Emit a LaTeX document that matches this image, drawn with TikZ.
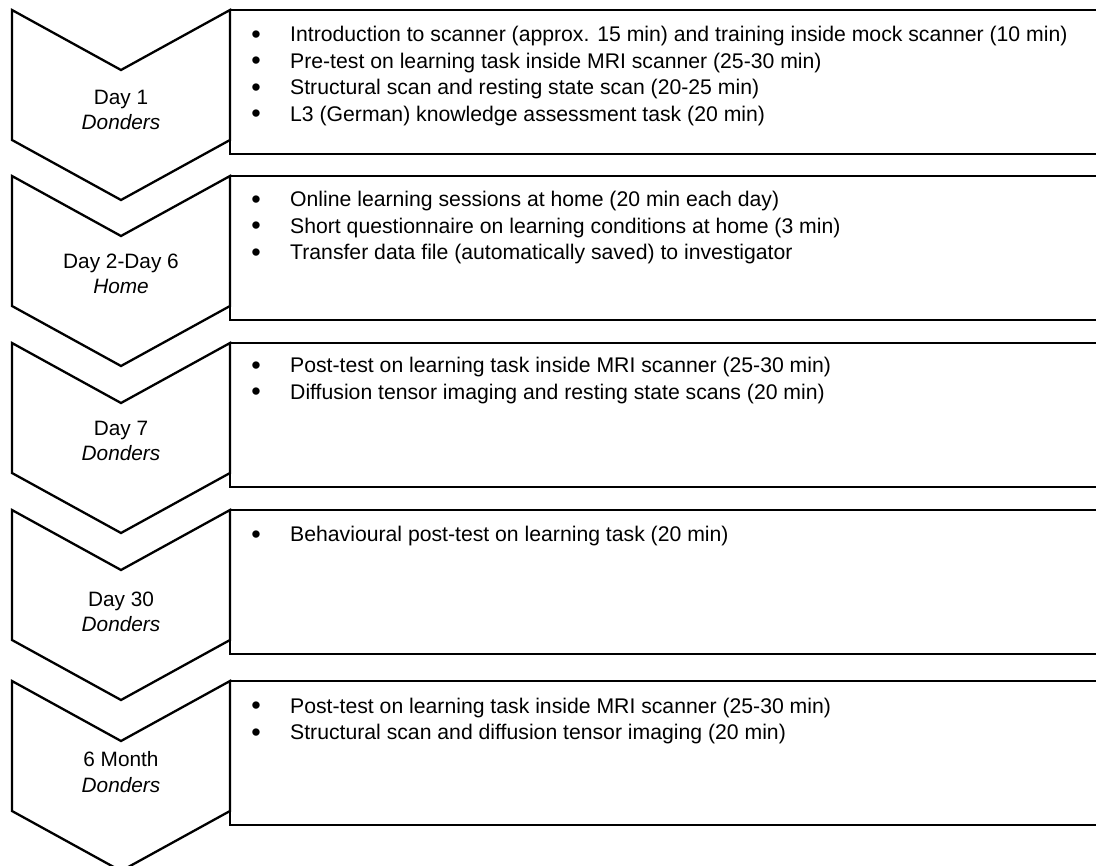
\documentclass[tikz,border=0pt]{standalone}
\usepackage{fontspec}
\setmainfont{Liberation Sans}
\tikzset{
  outl/.style={line width=2.3pt, line join=miter},
  lbl/.style={font=\fontsize{20.8}{25.5}\selectfont, align=center, inner sep=0pt},
  itm/.style={font=\fontsize{21.2}{22}\selectfont, anchor=base west, inner sep=0pt},
  dot/.style={font=\fontsize{27}{22}\selectfont, anchor=base, inner sep=0pt,
              text height=6pt, text depth=0pt},
}
\newcommand{\stage}[1]{%
  \draw[outl] (230,#1) rectangle (1110,#1+144);
  \draw[outl, fill=white] (12,#1) -- (121,#1+60) -- (230,#1) -- (230,#1+130)
      -- (121,#1+190) -- (12,#1+130) -- cycle;
}
\newcommand{\bul}[3]{% name, y baseline, text
  \node[dot] (#1d) at (256,#2+1.5) {•};
  \node[itm] (#1) at (290,#2) {#3};
}
\begin{document}
\begin{tikzpicture}[x=1pt,y=-1pt]
\useasboundingbox (0,0) rectangle (1096,866);
\begin{scope}
\clip (0,0) rectangle (1096,866);
\stage{10}
\stage{176}
\stage{343}
\stage{510}
\stage{681}
\end{scope}

\node[lbl] (s1) at (121,110) {Day 1\\\textit{Donders}};
\node[lbl] (s2) at (121,274) {Day 2-Day 6\\\textit{Home}};
\node[lbl] (s3) at (121,441) {Day 7\\\textit{Donders}};
\node[lbl] (s4) at (121,612) {Day 30\\\textit{Donders}};
\node[lbl] (s5) at (121,772) {6 Month\\\textit{Donders}};

\bul{a1}{42}{Introduction to scanner (approx. 15 min) and training inside mock scanner (10 min)}
\bul{a2}{68.5}{Pre-test on learning task inside MRI scanner (25-30 min)}
\bul{a3}{95}{Structural scan and resting state scan (20-25 min)}
\bul{a4}{121.5}{L3 (German) knowledge assessment task (20 min)}

\bul{b1}{207}{Online learning sessions at home (20 min each day)}
\bul{b2}{233.5}{Short questionnaire on learning conditions at home (3 min)}
\bul{b3}{260}{Transfer data file (automatically saved) to investigator}

\bul{c1}{373}{Post-test on learning task inside MRI scanner (25-30 min)}
\bul{c2}{399.5}{Diffusion tensor imaging and resting state scans (20 min)}

\bul{d1}{542}{Behavioural post-test on learning task (20 min)}

\bul{e1}{713}{Post-test on learning task inside MRI scanner (25-30 min)}
\bul{e2}{739.5}{Structural scan and diffusion tensor imaging (20 min)}
\end{tikzpicture}
\end{document}
